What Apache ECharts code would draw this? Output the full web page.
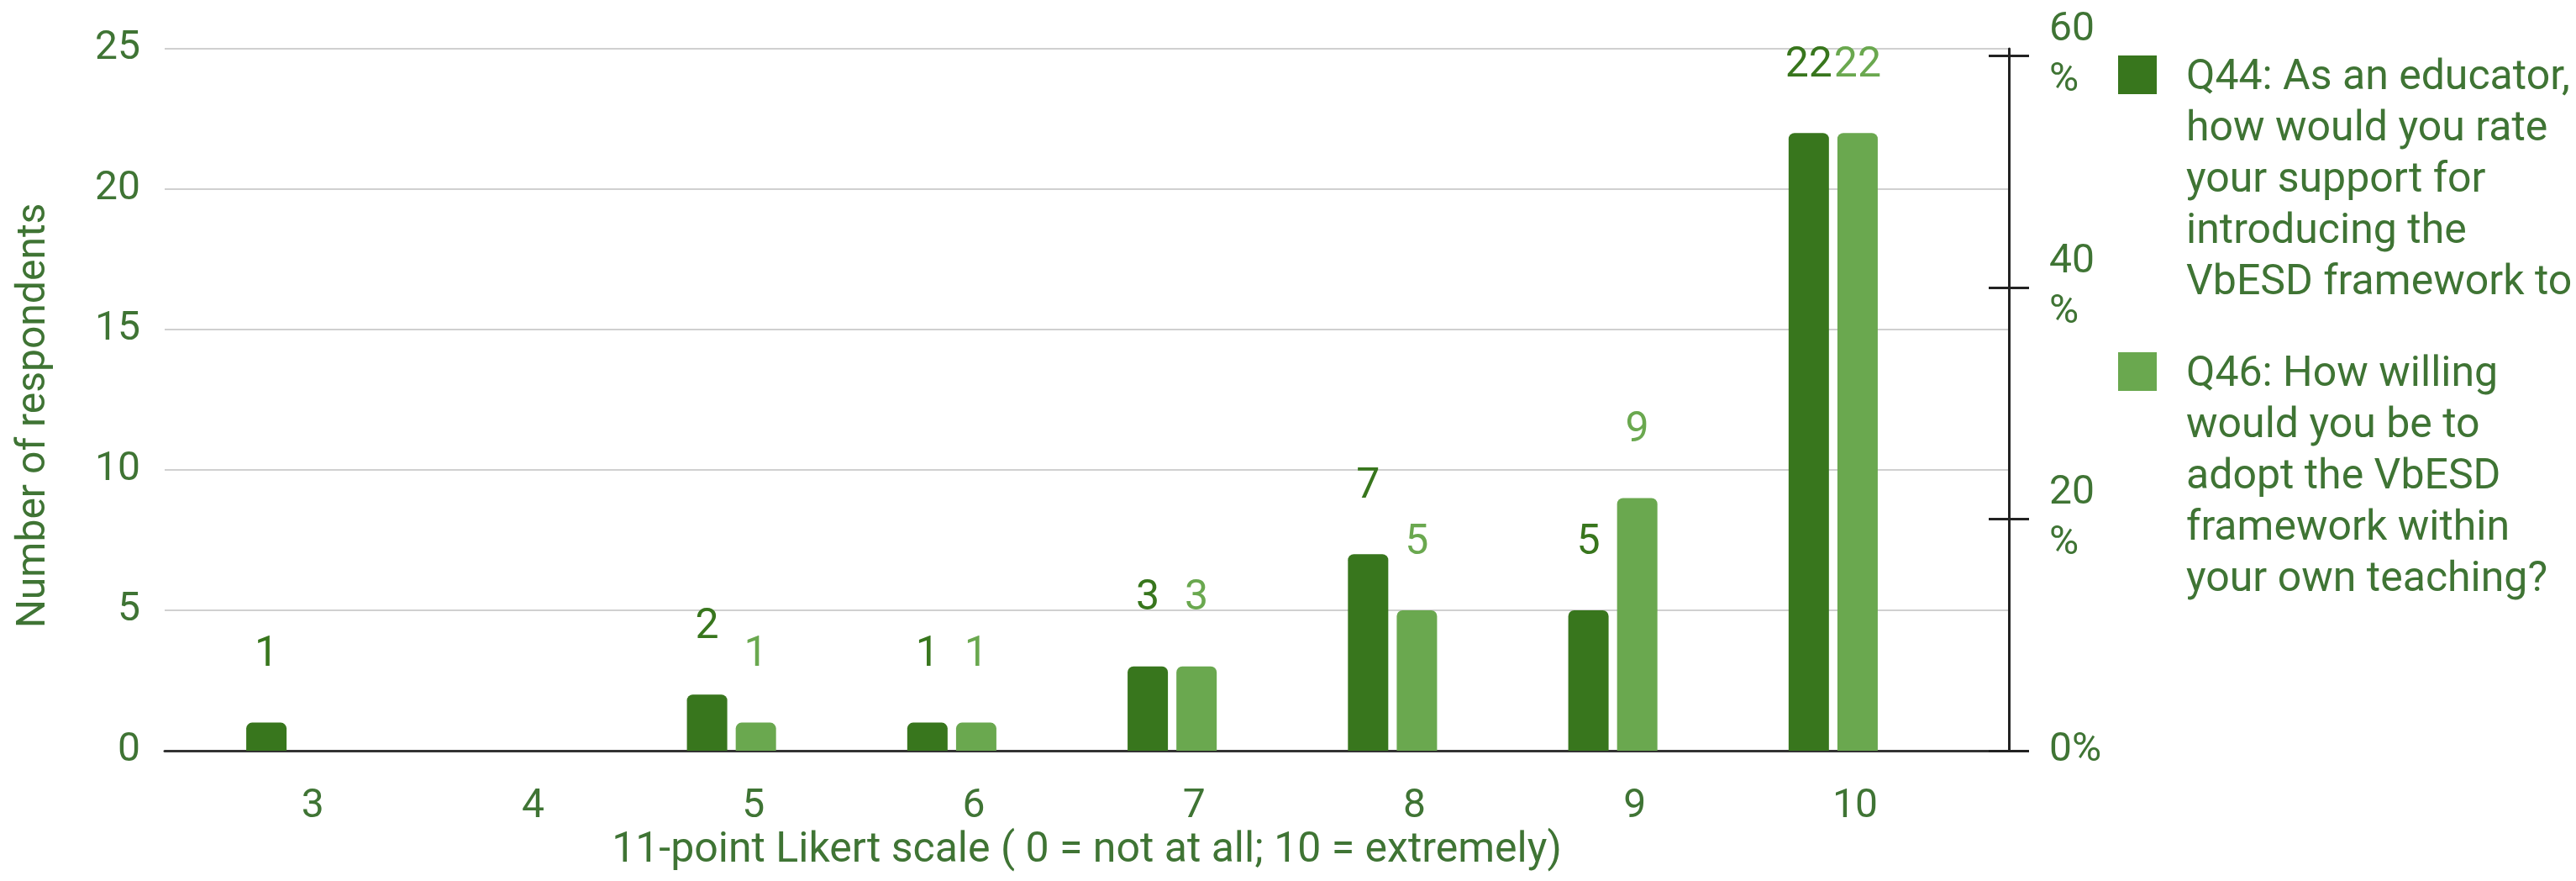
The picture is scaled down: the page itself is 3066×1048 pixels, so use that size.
<!DOCTYPE html>
<html>
<head>
<meta charset="utf-8">
<style>
  html, body { margin: 0; padding: 0; background: #fff; }
  #chart { width: 3066px; height: 1048px; }
</style>
<script src="https://cdn.jsdelivr.net/npm/echarts@6/dist/echarts.min.js"></script>
</head>
<body>
<div id="chart"></div>
<script>
// Likert scores shown on the axis
const categories = ["3", "4", "5", "6", "7", "8", "9", "10"];
// respondents per score
const q44Values = [1, 0, 2, 1, 3, 7, 5, 22];
const q46Values = [0, 0, 1, 1, 3, 5, 9, 22];
const seriesNames = [
    "Q44: As an educator,\nhow would you rate\nyour support for\nintroducing the\nVbESD framework to",
    "Q46: How willing\nwould you be to\nadopt the VbESD\nframework within\nyour own teaching?"
];
const countTicks = [0, 5, 10, 15, 20, 25];
const percentTicks = [0, 20, 40, 60];

const textColor = "#3f7434";
const darkGreen = "#38761d";
const lightGreen = "#6aa84f";
const font = "Roboto";

const chart = echarts.init(document.getElementById("chart"), null, { renderer: "canvas" });

const valueLabel = (color) => ({
    show: true,
    position: "top",
    distance: 55,
    color: color,
    fontFamily: font,
    fontSize: 50,
    formatter: p => (p.value === 0 ? "" : String(p.value))
});

// right axis drawn twice so the ticks cross the line
const percentAxis = (inside, labelValues, labelPadding) => ({
    type: "value",
    gridIndex: 1,
    position: "right",
    min: 0,
    max: 60.6,
    axisLine: { show: !inside, lineStyle: { color: "#222222", width: 3 } },
    axisTick: {
        show: true,
        inside: inside,
        length: 24,
        customValues: percentTicks,
        lineStyle: { color: "#222222", width: 3 }
    },
    axisLabel: {
        color: textColor,
        fontFamily: font,
        fontSize: 48,
        lineHeight: 60,
        margin: 48,
        padding: labelPadding,
        customValues: labelValues,
        formatter: v => (v === 0 ? "0%" : v + "\n%")
    },
    splitLine: { show: false }
});

chart.setOption({
    animation: false,
    backgroundColor: "#ffffff",
    textStyle: { fontFamily: font },
    legend: {
        orient: "vertical",
        left: 2516,
        top: 58,
        itemWidth: 46,
        itemHeight: 305,
        itemGap: 48,
        icon: "path://M23 0L23 0M0 3H46V49H0ZM23 305L23 305",
        data: seriesNames,
        textStyle: {
            color: textColor,
            fontFamily: font,
            fontSize: 50,
            lineHeight: 61,
            padding: [0, 0, 0, 30]
        }
    },
    grid: [
        { left: 215, right: 753, top: 58, bottom: 155, outerBoundsMode: "none" },
        { left: 196, right: 675, top: 58, bottom: 155, outerBoundsMode: "none" }
    ],
    xAxis: [
        {
            type: "category",
            gridIndex: 0,
            data: categories,
            axisLine: { show: false },
            axisTick: { show: false },
            axisLabel: {
                color: textColor,
                fontFamily: font,
                fontSize: 48,
                margin: 43,
                padding: [0, 0, 0, 52]
            }
        },
        {
            type: "value",
            gridIndex: 1,
            min: 0,
            max: 1,
            name: "11-point Likert scale ( 0 = not at all; 10 = extremely)",
            nameLocation: "middle",
            nameGap: 94,
            nameTextStyle: { color: textColor, fontFamily: font, fontSize: 50 },
            axisLine: { show: true, lineStyle: { color: "#333333", width: 3 } },
            axisTick: { show: false },
            axisLabel: { show: false },
            splitLine: { show: false }
        }
    ],
    yAxis: [
        {
            type: "value",
            gridIndex: 1,
            position: "left",
            min: 0,
            max: 25,
            interval: 5,
            name: "Number of respondents",
            nameLocation: "middle",
            nameGap: 131,
            nameRotate: 90,
            nameTextStyle: {
                color: textColor,
                fontFamily: font,
                fontSize: 48,
                padding: [0, 38, 0, 0]
            },
            axisLine: { show: false },
            axisTick: { show: false },
            axisLabel: {
                color: textColor,
                fontFamily: font,
                fontSize: 48,
                margin: 29,
                customValues: countTicks
            },
            splitLine: { show: true, lineStyle: { color: "#d0d0d0", width: 2 } }
        },
        percentAxis(false, [0], 0),
        percentAxis(true, [20, 40, 60], [34, 0, 0, 0]),
        {
            type: "value",
            gridIndex: 0,
            min: 0,
            max: 25,
            show: false,
            splitLine: { show: false }
        }
    ],
    series: [
        {
            name: seriesNames[0],
            type: "bar",
            xAxisIndex: 0,
            yAxisIndex: 3,
            data: q44Values,
            barWidth: 48,
            barGap: "21%",
            itemStyle: { color: darkGreen, borderRadius: [7, 7, 0, 0] },
            label: valueLabel(darkGreen)
        },
        {
            name: seriesNames[1],
            type: "bar",
            xAxisIndex: 0,
            yAxisIndex: 3,
            data: q46Values,
            barWidth: 48,
            barGap: "21%",
            itemStyle: { color: lightGreen, borderRadius: [7, 7, 0, 0] },
            label: valueLabel(lightGreen)
        }
    ]
});
</script>
</body>
</html>
